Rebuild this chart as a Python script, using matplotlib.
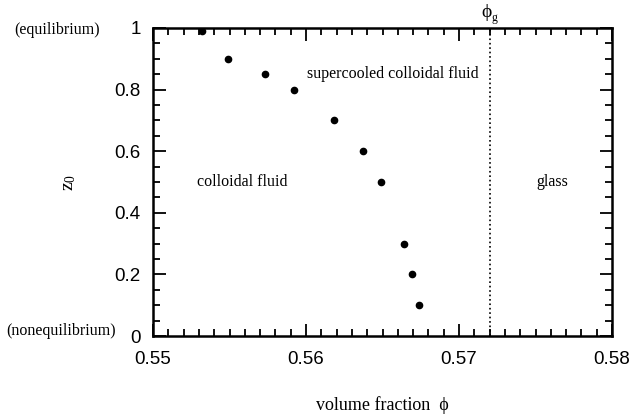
import numpy as np
import matplotlib.pyplot as plt
from matplotlib.ticker import MultipleLocator

# volume fraction and z0
phi = [0.5532, 0.5549, 0.5573, 0.5592, 0.5618, 0.5637, 0.5649, 0.5664, 0.5669, 0.5674]
z0 = [0.99, 0.90, 0.85, 0.80, 0.70, 0.60, 0.50, 0.30, 0.20, 0.10]
phiGlass = 0.572
xTicks = [0.55, 0.56, 0.57, 0.58]
yTicks = [0, 0.2, 0.4, 0.6, 0.8, 1]
xTickLabels = ['0.55', '0.56', '0.57', '0.58']
yTickLabels = ['0', '0.2', '0.4', '0.6', '0.8', '1']

serif = ['Liberation Serif', 'DejaVu Serif']
sans = 'Liberation Sans'

fig = plt.figure(figsize=(6.32, 4.16), dpi=100)
ax = fig.add_axes([0.2421, 0.1923, 0.7263, 0.7404])

ax.plot(phi, z0, 'o', color='black', markersize=4.5)
ax.axvline(phiGlass, color='black', linestyle=':', lw=1.2)

ax.set_xlim(0.55, 0.58)
ax.set_ylim(0, 1)
ax.set_xticks(xTicks)
ax.set_xticklabels(xTickLabels, fontfamily=sans, fontsize=13.5)
ax.set_yticks(yTicks)
ax.set_yticklabels(yTickLabels, fontfamily=sans, fontsize=13.5)
ax.xaxis.set_minor_locator(MultipleLocator(0.001))
ax.yaxis.set_minor_locator(MultipleLocator(0.05))
ax.tick_params(which='both', direction='in', top=True, right=True, width=1.3)
ax.tick_params(which='major', length=9)
ax.tick_params(axis='x', which='major', pad=11)
ax.tick_params(axis='y', which='major', pad=9)
ax.tick_params(which='minor', length=5)
for s in ax.spines.values():
    s.set_linewidth(1.8)

ax.set_xlabel('volume fraction  ϕ', fontfamily=serif, fontsize=13, labelpad=20)
ax.set_ylabel(r'$\mathregular{z_0}$', fontfamily=serif, fontsize=14, labelpad=26)

ax.text(0.5558, 0.5, 'colloidal fluid', fontfamily=serif, fontsize=11.5,
        ha='center', va='center')
ax.text(0.5657, 0.85, 'supercooled colloidal fluid', fontfamily=serif, fontsize=11.5,
        ha='center', va='center')
ax.text(0.5761, 0.5, 'glass', fontfamily=serif, fontsize=11.5, ha='center', va='center')
# phi_g label above the dotted line
ax.text(phiGlass + 0.0001, 1.05, 'ϕ', fontfamily=serif, fontsize=14,
        ha='right', va='center')
ax.text(phiGlass + 0.0001, 1.033, 'g', fontfamily=serif, fontsize=8.5,
        ha='left', va='center')

fig.text(57 / 632, 1 - 30 / 416, '(equilibrium)', fontfamily=serif, fontsize=11.5,
         ha='center', va='center')
fig.text(61 / 632, 1 - 331 / 416, '(nonequilibrium)', fontfamily=serif, fontsize=11.5,
         ha='center', va='center')

fig.savefig('out.png', dpi=100)
